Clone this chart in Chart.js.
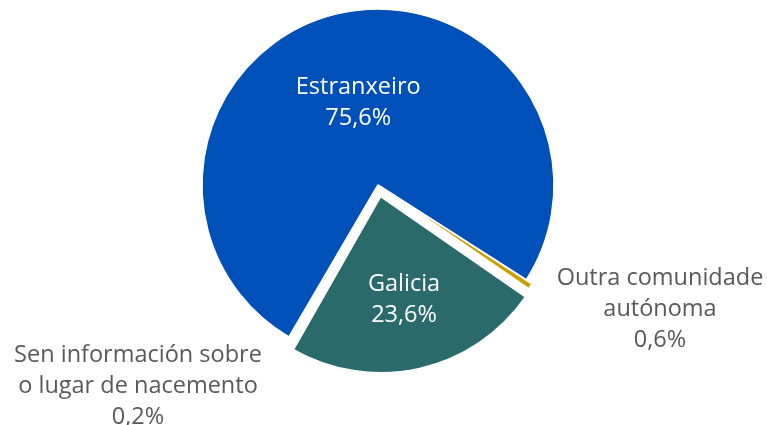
<!DOCTYPE html>
<html>
<head>
<meta charset="utf-8">
<script src="https://cdn.jsdelivr.net/npm/chart.js@4"></script>
<style>
  html, body { margin: 0; padding: 0; background: #fff; }
  #wrap { width: 767px; height: 425px; position: relative; }
</style>
</head>
<body>
<div id="wrap"><canvas id="originChart"></canvas></div>
<script>
// Lugar de nacemento
const labels = ['Estranxeiro', 'Outra comunidade autónoma', 'Galicia', 'Sen información sobre o lugar de nacemento'];
const values = [75.6, 0.6, 23.6, 0.2];
const valueText = ['75,6%', '0,6%', '23,6%', '0,2%'];
const colors = ['#0050b9', '#c9a000', '#2a6a6b', '#7f7f7f'];
const offsets = [0, 14, 48, 14];

// label text per slice, one entry per line
const labelLines = [
    ['Estranxeiro', valueText[0]],
    ['Outra comunidade', 'autónoma', valueText[1]],
    ['Galicia', valueText[2]],
    ['Sen información sobre', 'o lugar de nacemento', valueText[3]]
];

const labelPlugin = {
    id: 'sliceLabels',
    afterDatasetsDraw(chart) {
        const ctx = chart.ctx;
        const arcs = chart.getDatasetMeta(0).data;
        ctx.save();
        ctx.font = '23.5px "Open Sans", sans-serif';
        ctx.textAlign = 'center';
        ctx.textBaseline = 'middle';
        const lh = 31;
        arcs.forEach(function(arc, i) {
            const mid = (arc.startAngle + arc.endAngle) / 2;
            const r = arc.outerRadius;
            let x, y, color;
            if (i === 0 || i === 2) {
                // inside labels follow the slice
                const shift = offsets[i] / 4;
                const f = i === 0 ? 0.48 : 0.6;
                x = arc.x + Math.cos(mid) * (r * f + shift);
                y = arc.y + Math.sin(mid) * (r * f + shift);
                color = '#ffffff';
            } else if (i === 1) {
                x = arc.x + r + 106;
                y = arc.y + 124;
                color = '#595959';
            } else {
                x = arc.x - 240;
                y = arc.y + 201;
                color = '#595959';
            }
            ctx.fillStyle = color;
            const lines = labelLines[i];
            const top = y - (lines.length - 1) * lh / 2;
            lines.forEach(function(t, k) {
                ctx.fillText(t, x, top + k * lh);
            });
        });
        ctx.restore();
    }
};

new Chart(document.getElementById('originChart'), {
    type: 'pie',
    data: {
        labels: labels,
        datasets: [{
            data: values,
            backgroundColor: colors,
            borderColor: '#ffffff',
            borderWidth: 1.5,
            offset: offsets
        }]
    },
    options: {
        responsive: true,
        maintainAspectRatio: false,
        animation: false,
        rotation: 210.4,
        radius: 176,
        layout: { padding: { left: 0, right: 11, top: 0, bottom: 55 } },
        plugins: {
            legend: { display: false },
            tooltip: { enabled: false }
        }
    },
    plugins: [labelPlugin]
});
</script>
</body>
</html>
